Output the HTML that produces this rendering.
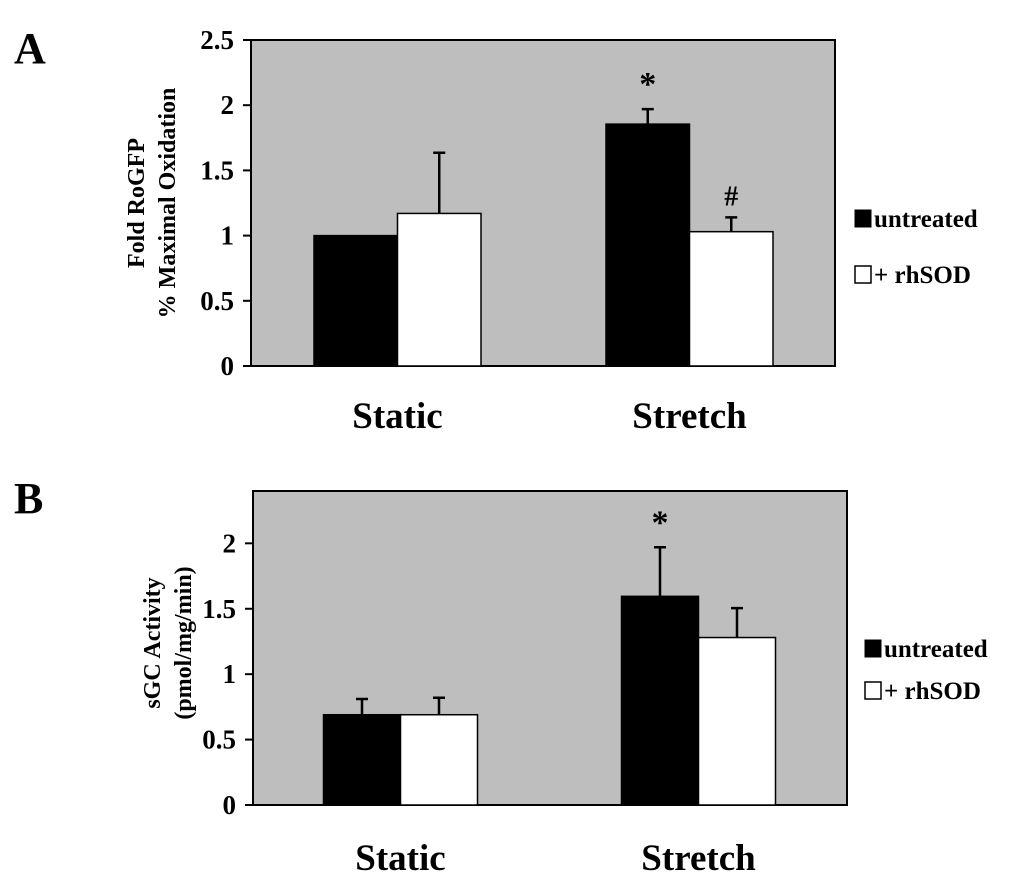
<!DOCTYPE html>
<html><head><meta charset="utf-8"><style>
body{margin:0;background:#fff;}
svg text{font-family:"Liberation Serif",serif;font-weight:bold;fill:#000;}
</style></head><body>
<svg id="chart" width="1024" height="887" xmlns="http://www.w3.org/2000/svg">
<text x="14" y="63" font-size="44">A</text>
<text x="14" y="513" font-size="44">B</text>
<g id="pa"></g>
<g id="pb"></g>
</svg>
<script>
const categoriesA = ["Static","Stretch"];
const untreatedA = [1.0, 1.855];
const untreatedErrA = [0.0, 0.115];
const rhsodA = [1.17, 1.03];
const rhsodErrA = [0.465, 0.11];
const ticksA = ["0","0.5","1","1.5","2","2.5"];
const marksA = [["",""],["*","#"]];

const categoriesB = ["Static","Stretch"];
const untreatedB = [0.69, 1.595];
const untreatedErrB = [0.12, 0.375];
const rhsodB = [0.69, 1.28];
const rhsodErrB = [0.13, 0.225];
const ticksB = ["0","0.5","1","1.5","2"];
const marksB = [["",""],["*",""]];

const NS="http://www.w3.org/2000/svg";
function mk(parent,tag,attrs,txt){const e=document.createElementNS(NS,tag);for(const k in attrs)e.setAttribute(k,attrs[k]);if(txt!==undefined)e.textContent=txt;parent.appendChild(e);return e;}

function panel(g,cfg){
  const {L,R,T,B,ymax,cats,u,ue,w,we,ticks,marks,titles,tx,ty,groups,bw,leg,catY}=cfg;
  const y=v=>B-(v/ymax)*(B-T);
  const bg=mk(g,'rect',{x:L,y:T,width:R-L,height:B-T,fill:'#bebebe',stroke:'#000','stroke-width':2});
  
  
  ticks.forEach(t=>{const v=parseFloat(t);const yy=y(v);
    const l=mk(g,'line',{x1:L-8,x2:L,y1:yy,y2:yy,stroke:'#000','stroke-width':2});
    
    
    const tt=mk(g,'text',{x:L-17,y:yy+9,'font-size':27,'text-anchor':'end'},t);
    
    
  });
  cats.forEach((c,i)=>{
    const x0=groups[i];
    [[u,ue,'#000','untreated',0],[w,we,'#fff','rhsod',1]].forEach(([vals,errs,fill,nm,k])=>{
      const bx=x0+k*bw, top=y(vals[i]);
      const r=mk(g,'rect',{x:bx,y:top,width:bw,height:B-top,fill:fill,stroke:'#000','stroke-width':1.5});
      
      
      if(errs[i]>0){const cx=bx+bw/2,ey=y(vals[i]+errs[i]);
        const e=mk(g,'path',{d:`M${cx},${top}V${ey}M${cx-6},${ey}H${cx+6}`,stroke:'#000','stroke-width':2.5,fill:'none'});
        
        
        if(marks[i][k]){const m=mk(g,'text',{x:cx,y:ey-(marks[i][k]=='*'?14:12),'font-size':marks[i][k]=='*'?34:28,'text-anchor':'middle','font-weight':'normal'},marks[i][k]);
          
          }
      }
    });
    const cl=mk(g,'text',{x:x0+bw,y:catY,'font-size':37,'text-anchor':'middle'},c);
    
    
  });
  titles.forEach((t,i)=>{const tt=mk(g,'text',{x:0,y:0,'font-size':24,'text-anchor':'middle',transform:`translate(${tx[i]},${ty}) rotate(-90)`},t);
    
    });
  const [lx,ly1,ly2]=leg;
  const s1=mk(g,'rect',{x:lx,y:ly1-17,width:16,height:17,fill:'#000',stroke:'#000'});
  
  
  const t1=mk(g,'text',{x:lx+19,y:ly1,'font-size':25},'untreated');
  
  
  const s2=mk(g,'rect',{x:lx,y:ly2-17,width:16,height:17,fill:'#fff',stroke:'#000','stroke-width':1.5});
  
  
  const t2=mk(g,'text',{x:lx+19,y:ly2,'font-size':25},'+ rhSOD');
  
  
}
panel(document.getElementById('pa'),{L:251,R:835,T:40,B:366,ymax:2.5,cats:categoriesA,u:untreatedA,ue:untreatedErrA,w:rhsodA,we:rhsodErrA,ticks:ticksA,marks:marksA,titles:["Fold RoGFP","% Maximal Oxidation"],tx:[144,175],ty:203,groups:[314,606],bw:83.5,leg:[855,227,283],catY:428});
panel(document.getElementById('pb'),{L:253,R:847,T:491,B:805,ymax:2.4,cats:categoriesB,u:untreatedB,ue:untreatedErrB,w:rhsodB,we:rhsodErrB,ticks:ticksB,marks:marksB,titles:["sGC Activity","(pmol/mg/min)"],tx:[160,191],ty:643,groups:[323.5,621.5],bw:77,leg:[865,657,699],catY:870});
</script>
</body></html>
